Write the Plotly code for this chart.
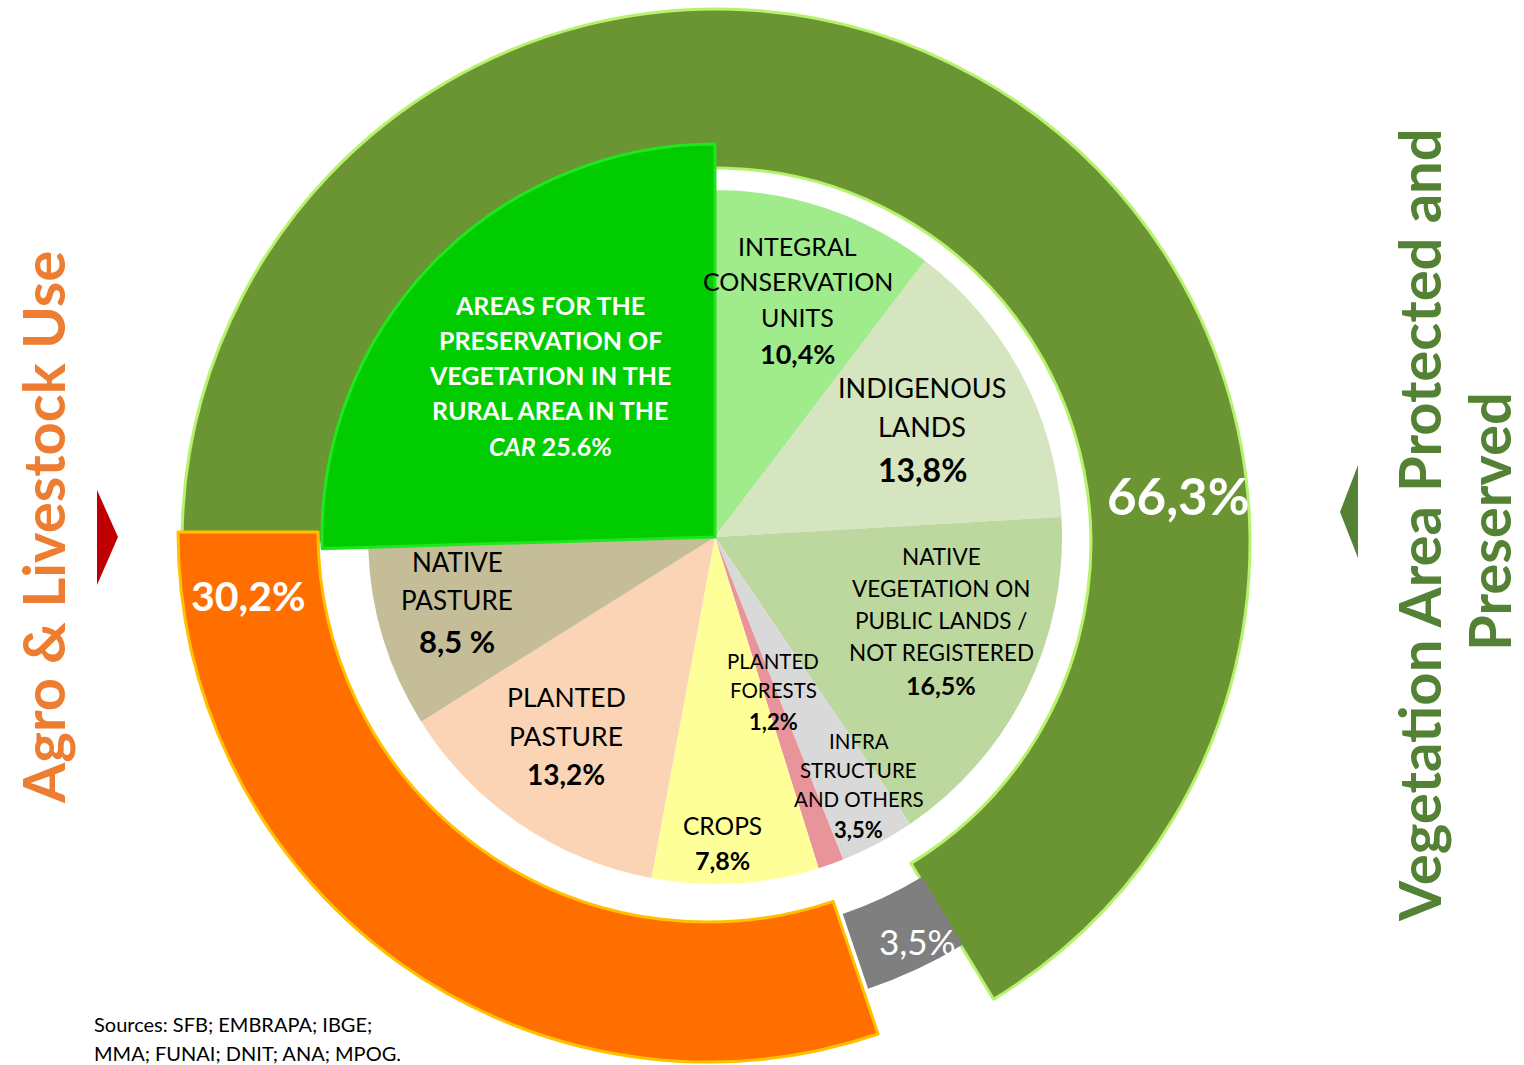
import plotly.graph_objects as go

W, H = 1524, 1085   # page is cropped by the 1065px window; bottom 20px stay empty
CX, CY = 715, 537   # pie centre in pixels

# ---------------- data ----------------
inner_names = [
    "INTEGRAL<br>CONSERVATION<br>UNITS",
    "INDIGENOUS<br>LANDS",
    "NATIVE<br>VEGETATION ON<br>PUBLIC LANDS /<br>NOT REGISTERED",
    "INFRA<br>STRUCTURE<br>AND OTHERS",
    "PLANTED<br>FORESTS",
    "CROPS",
    "PLANTED<br>PASTURE",
    "NATIVE<br>PASTURE",
    "AREAS FOR THE<br>PRESERVATION OF<br>VEGETATION IN THE<br>RURAL AREA IN THE<br><i>CAR</i>",
]
inner_values = [10.4, 13.8, 16.5, 3.5, 1.2, 7.8, 13.2, 8.5, 25.6]
inner_pct_text = ["10,4%", "13,8%", "16,5%", "3,5%", "1,2%", "7,8%", "13,2%", "8,5 %", "25.6%"]
inner_colors = ["#A0EC8C", "#D5E5BF", "#BDD89E", "#D9D9D9", "#E8949A",
                "#FFFF99", "#FBD4B6", "#C4BD97", "#00CC00"]

outer_names = ["Vegetation Area Protected and Preserved", "Other uses", "Agro & Livestock Use"]
outer_values = [66.3, 3.5, 30.2]
outer_pct_text = ["66,3%", "3,5%", "30,2%"]
outer_colors = ["#6B9432", "#7F7F7F", "#FF6F00"]
outer_line_colors = ["#B6F26C", "#BFBFBF", "#FFC000"]

sources_lines = ["Sources: SFB; EMBRAPA; IBGE;", "MMA; FUNAI; DNIT; ANA; MPOG."]

TRANSP = "rgba(0,0,0,0)"


def dom(R, cx=CX, cy=CY):
    return dict(x=[(cx - R) / W, (cx + R) / W],
                y=[(H - cy - R) / H, (H - cy + R) / H])


def only(colors, idx):
    return [c if i == idx else TRANSP for i, c in enumerate(colors)]


fig = go.Figure()

# outer ring pieces, each drawn with its own thickness
ring_geom = [  # (index, centre x, centre y, outer R, inner R)
    (0, 716, 543, 534, 375),
    (2, 708, 532, 530, 390),
    (1, 715, 537, 477, 398),
]
for idx, cx, cy, R, inner in ring_geom:
    fig.add_trace(go.Pie(
        labels=outer_names, values=outer_values, sort=False,
        direction="clockwise", rotation=270,
        hole=inner / R, domain=dom(R, cx, cy),
        marker=dict(colors=only(outer_colors, idx),
                    line=dict(color=only(outer_line_colors, idx),
                              width=[3 if (i == idx and idx != 1) else 0 for i in range(3)])),
        textinfo="none", hoverinfo="label+value", showlegend=False,
    ))

# inner pie (all except CAR)
fig.add_trace(go.Pie(
    labels=inner_names, values=inner_values, sort=False,
    direction="clockwise", rotation=0, domain=dom(347),
    marker=dict(colors=[c if i != 8 else TRANSP for i, c in enumerate(inner_colors)],
                line=dict(width=0)),
    textinfo="none", hoverinfo="label+value", showlegend=False,
))
# CAR slice, larger radius
fig.add_trace(go.Pie(
    labels=inner_names, values=inner_values, sort=False,
    direction="clockwise", rotation=0, domain=dom(393),
    marker=dict(colors=only(inner_colors, 8),
                line=dict(color=["#1FE61F" if i == 8 else TRANSP for i in range(9)],
                          width=[3 if i == 8 else 0 for i in range(9)])),
    textinfo="none", hoverinfo="label+value", showlegend=False,
))

FONT = "Lato"
ann = []


def px(x, y):
    return x / W, 1 - y / H


def add_lines(lines, cx, ys, size, color="#000000", bold=False):
    for line, y in zip(lines, ys):
        x0, y0 = px(cx, y)
        t = f"<b>{line}</b>" if bold else line
        ann.append(dict(x=x0, y=y0, xref="paper", yref="paper", text=t,
                        showarrow=False, xanchor="center", yanchor="middle",
                        font=dict(family=FONT, size=size, color=color)))


# label layout: (cx, line ys, size, pct y, pct size)
layout_spec = [
    (798, [246, 281, 317], 25, 353, 27),
    (922, [388, 426], 27, 469, 32),
    (941, [556, 588, 620, 652], 22.5, 685, 25),
    (859, [741, 770, 799], 20.5, 829, 22),
    (773, [661, 690], 20.5, 721, 22),
    (722, [825], 24.5, 860, 25),
    (566, [697, 736], 26.5, 774, 28),
    (457, [562, 600], 26, 641, 31),
]
for i, (cx, ys, sz, py, psz) in enumerate(layout_spec):
    add_lines(inner_names[i].split("<br>"), cx, ys, sz)
    add_lines([inner_pct_text[i]], cx, [py], psz, bold=True)

# CAR label (white bold)
car_lines = inner_names[8].split("<br>")
car_lines[-1] = car_lines[-1] + " " + inner_pct_text[8]
add_lines(car_lines, 550, [305, 340, 375, 410, 446], 25, color="#FFFFFF", bold=True)

# ring percentages
add_lines([outer_pct_text[0]], 1178, [495], 51, color="#FFFFFF", bold=True)
add_lines([outer_pct_text[2]], 249, [595], 41, color="#FFFFFF", bold=True)
add_lines([outer_pct_text[1]], 917, [941], 35, color="#FFFFFF")

# sources
for line, y in zip(sources_lines, [1024, 1053]):
    x0, y0 = px(92, y)
    ann.append(dict(x=x0, y=y0, xref="paper", yref="paper", text=line,
                    showarrow=False, xanchor="left", yanchor="middle",
                    font=dict(family=FONT, size=20, color="#000000")))

# vertical titles
for text, x, y, col in [
    (outer_names[2], 42, 528, "#ED7D31"),
    ("Vegetation Area Protected and", 1418, 525, "#548235"),
    ("Preserved", 1488, 522, "#548235"),
]:
    x0, y0 = px(x, y)
    ann.append(dict(x=x0, y=y0, xref="paper", yref="paper", text=f"<b>{text}</b>",
                    showarrow=False, xanchor="center", yanchor="middle", textangle=-90,
                    font=dict(family=FONT, size=58, color=col)))


# arrows (triangles)
def tri(pts, color):
    path = "M " + " L ".join(f"{px(x, y)[0]},{px(x, y)[1]}" for x, y in pts) + " Z"
    return dict(type="path", xref="paper", yref="paper", path=path,
                fillcolor=color, line=dict(width=0))


shapes = [
    tri([(97, 490), (118, 537), (97, 585)], "#C00000"),
    tri([(1358, 465), (1340, 512), (1358, 558)], "#548235"),
]

fig.update_layout(
    width=W, height=H, margin=dict(l=0, r=0, t=0, b=0),
    paper_bgcolor="#FFFFFF", plot_bgcolor="#FFFFFF",
    annotations=ann, shapes=shapes, showlegend=False,
)

fig.write_html("out.html", config={"displayModeBar": False},
               post_script="document.body.style.margin='0';document.body.style.overflow='hidden';")
